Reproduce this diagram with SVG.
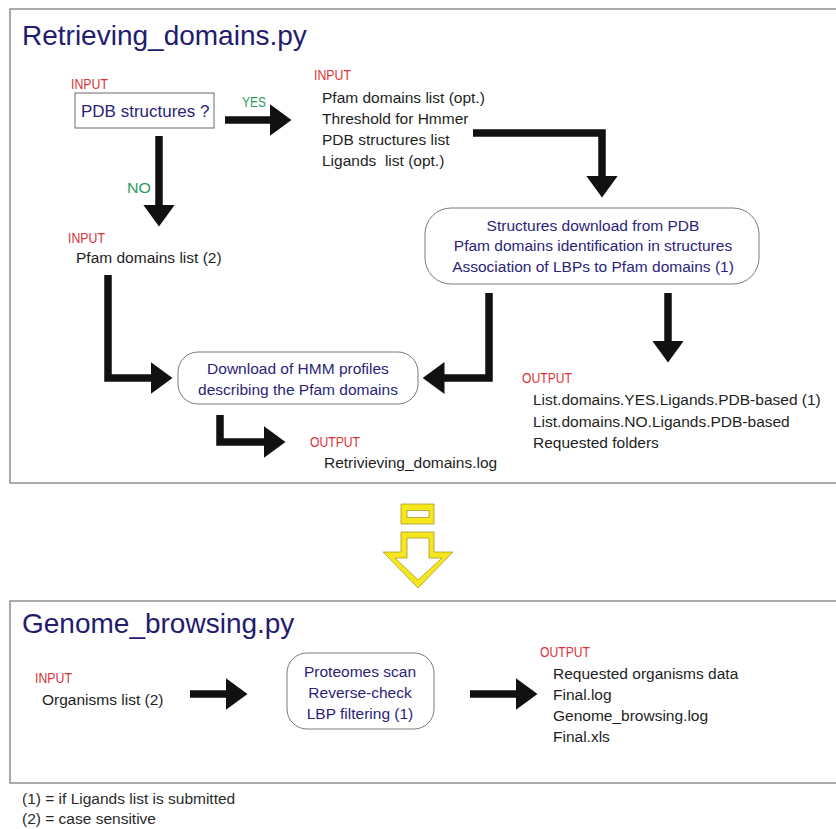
<svg xmlns="http://www.w3.org/2000/svg" width="836" height="829" viewBox="0 0 836 829">
<style>
text{font-family:"Liberation Sans",Arial,sans-serif;}
.frame{fill:none;stroke:#8f8f8f;stroke-width:1.5;}
.title{font-size:28px;fill:#231c6e;}
.lab{font-size:15px;fill:#d8343a;}
.yn{font-size:15px;fill:#2f9a5e;}
.body{font-size:15.5px;fill:#1e1e1e;}
.navy{font-size:15.5px;fill:#2b2478;}
.box{fill:#fff;stroke:#7a7a7a;stroke-width:1;}
.conn{fill:none;stroke:#111;stroke-width:7.5;stroke-linejoin:miter;}
.foot{font-size:15.5px;fill:#2a2a2a;}
.yel{fill:#f6e71c;stroke:#a89b2a;stroke-width:0.8;fill-rule:evenodd;}
</style>
<defs>
<marker id="ah" markerUnits="userSpaceOnUse" markerWidth="22" markerHeight="32" viewBox="0 0 22 32" refX="0.5" refY="16" orient="auto">
<path d="M0,0 L22,16 L0,32 Z" fill="#111"/>
</marker>
</defs>
<rect width="836" height="829" fill="#fff"/>
<rect class="frame" x="10" y="9" width="840" height="474"/>
<rect class="frame" x="10" y="601" width="840" height="182"/>
<text class="title" x="22" y="45">Retrieving_domains.py</text>
<text class="title" x="22" y="633">Genome_browsing.py</text>

<g id="connectors">
<path class="conn" d="M225,120 H270" marker-end="url(#ah)"/>
<path class="conn" d="M159,136 V205" marker-end="url(#ah)"/>
<path class="conn" d="M473,133 H602 V176" marker-end="url(#ah)"/>
<path class="conn" d="M489,293 V378 H444" marker-end="url(#ah)"/>
<path class="conn" d="M668,293 V341" marker-end="url(#ah)"/>
<path class="conn" d="M108,275 V378 H151" marker-end="url(#ah)"/>
<path class="conn" d="M220,415 V442 H264" marker-end="url(#ah)"/>
<path class="conn" d="M190,694 H226" marker-end="url(#ah)"/>
<path class="conn" d="M470,694 H516" marker-end="url(#ah)"/>
<text class="yn" x="242" y="107" textLength="24" lengthAdjust="spacingAndGlyphs">YES</text>
<text class="yn" x="127" y="193" textLength="24" lengthAdjust="spacingAndGlyphs">NO</text>
</g>

<g id="pdb-question">
<text class="lab" x="71" y="89" textLength="37" lengthAdjust="spacingAndGlyphs">INPUT</text>
<rect x="75" y="93" width="139" height="35" fill="#fff" stroke="#6a6a6a" stroke-width="1"/>
<text x="81" y="117" style="font-size:17px;fill:#2b2478">PDB structures ?</text>
</g>

<g id="input-yes">
<text class="lab" x="314" y="80" textLength="37" lengthAdjust="spacingAndGlyphs">INPUT</text>
<text class="body" x="322" y="103">Pfam domains list (opt.)</text>
<text class="body" x="322" y="124">Threshold for Hmmer</text>
<text class="body" x="322" y="145">PDB structures list</text>
<text class="body" x="322" y="166" style="white-space:pre">Ligands  list (opt.)</text>
</g>

<g id="input-no">
<text class="lab" x="68" y="243" textLength="37" lengthAdjust="spacingAndGlyphs">INPUT</text>
<text class="body" x="76" y="263">Pfam domains list (2)</text>
</g>

<g id="structures-box">
<rect class="box" x="425" y="208" width="334" height="76" rx="26" ry="26"/>
<text class="navy" x="593" y="231" text-anchor="middle">Structures download from PDB</text>
<text class="navy" x="593" y="251" text-anchor="middle">Pfam domains identification in structures</text>
<text class="navy" x="593" y="272" text-anchor="middle">Association of LBPs to Pfam domains (1)</text>
</g>

<g id="hmm-box">
<rect class="box" x="178" y="352" width="240" height="52" rx="20" ry="20"/>
<text class="navy" x="298" y="374" text-anchor="middle">Download of HMM profiles</text>
<text class="navy" x="298" y="395" text-anchor="middle">describing the Pfam domains</text>
</g>

<g id="output-structures">
<text class="lab" x="522" y="383" textLength="50" lengthAdjust="spacingAndGlyphs">OUTPUT</text>
<text class="body" x="533" y="405">List.domains.YES.Ligands.PDB-based (1)</text>
<text class="body" x="533" y="427">List.domains.NO.Ligands.PDB-based</text>
<text class="body" x="533" y="448">Requested folders</text>
</g>

<g id="output-log">
<text class="lab" x="310" y="447" textLength="50" lengthAdjust="spacingAndGlyphs">OUTPUT</text>
<text class="body" x="324" y="468">Retrivieving_domains.log</text>
</g>

<g id="yellow-arrow">
<path class="yel" d="M401,504 H434 V524 H401 Z M407,510.5 H429 V517.5 H407 Z"/>
<path class="yel" d="M401,532 H434 V552 H453 L418,588 L383,552 H401 Z M407,538 H429 V558 H442 L418,580 L395,558 H407 Z"/>
</g>

<g id="input-organisms">
<text class="lab" x="35" y="683" textLength="37" lengthAdjust="spacingAndGlyphs">INPUT</text>
<text class="body" x="42" y="705">Organisms list (2)</text>
</g>

<g id="proteomes-box">
<rect class="box" x="287" y="653" width="147" height="76" rx="20" ry="20"/>
<text class="navy" x="360" y="677" text-anchor="middle">Proteomes scan</text>
<text class="navy" x="360" y="698" text-anchor="middle">Reverse-check</text>
<text class="navy" x="360" y="719" text-anchor="middle">LBP filtering (1)</text>
</g>

<g id="output-genome">
<text class="lab" x="540" y="657" textLength="50" lengthAdjust="spacingAndGlyphs">OUTPUT</text>
<text class="body" x="553" y="679">Requested organisms data</text>
<text class="body" x="553" y="700">Final.log</text>
<text class="body" x="553" y="721">Genome_browsing.log</text>
<text class="body" x="553" y="742">Final.xls</text>
</g>

<g id="footnotes">
<text class="foot" x="22" y="804">(1) = if Ligands list is submitted</text>
<text class="foot" x="22" y="824">(2) = case sensitive</text>
</g>
</svg>
